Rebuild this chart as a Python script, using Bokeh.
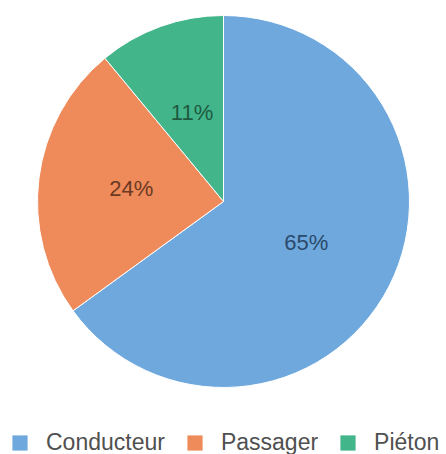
import numpy as np
from bokeh.plotting import figure
from bokeh.models import Range1d, ColumnDataSource, Legend, LegendItem
from bokeh.core.properties import value
from bokeh.embed import file_html
from bokeh.resources import INLINE

categories = ["Conducteur", "Passager", "Piéton"]
values = [65, 24, 11]
labels = ["65%", "24%", "11%"]
colors = ["#6FA8DC", "#EF8A5A", "#43B58B"]
label_colors = ["#2A4A6C", "#6A3A22", "#1E5A40"]

W, H = 446, 454
cx, cy, r = 223, H - 201, 186

fr = np.array(values, dtype=float) / sum(values)
cum = np.concatenate([[0.0], np.cumsum(fr)])
start = np.pi / 2 - 2 * np.pi * cum[:-1]
end = np.pi / 2 - 2 * np.pi * cum[1:]
mid = (start + end) / 2

src = ColumnDataSource(dict(
    cat=categories, start=start, end=end, color=colors,
    lx=cx + 0.5 * r * np.cos(mid), ly=cy + 0.5 * r * np.sin(mid) + 1.5,
    lab=labels, lcol=label_colors,
))

p = figure(width=W, height=H, x_range=Range1d(0, W), y_range=Range1d(0, H),
           output_backend="svg", toolbar_location=None, min_border=0)
p.axis.visible = False
p.grid.visible = False
p.outline_line_color = None
p.background_fill_color = "white"

wr = p.wedge(x=cx, y=cy, radius=r, start_angle="start", end_angle="end",
             direction="clock", fill_color="color", line_color="white",
             line_width=1, source=src)

p.text(x="lx", y="ly", text="lab", text_color="lcol", source=src,
       text_align="center", text_baseline="middle",
       text_font=value("Liberation Sans"), text_font_size="22px")

# legend swatches: a square-block renderer sharing the slice colours, drawn off-range
sw = ColumnDataSource(dict(x=[np.nan] * len(categories), y=[np.nan] * len(categories), color=colors))
sr = p.block(x="x", y="y", width=1, height=1, fill_color="color", line_color=None, source=sw)

items = [LegendItem(label=c, renderers=[sr], index=i) for i, c in enumerate(categories)]
legend = Legend(items=items, orientation="horizontal", location=(10, -2),
                glyph_width=19, glyph_height=19, label_height=24, label_standoff=17,
                spacing=20, padding=0, margin=0,
                border_line_alpha=0, background_fill_alpha=0,
                label_text_font="Liberation Sans", label_text_font_size="23px",
                label_text_color="#505050")
p.add_layout(legend, "center")

open("out.html", "w").write(file_html(p, INLINE))
